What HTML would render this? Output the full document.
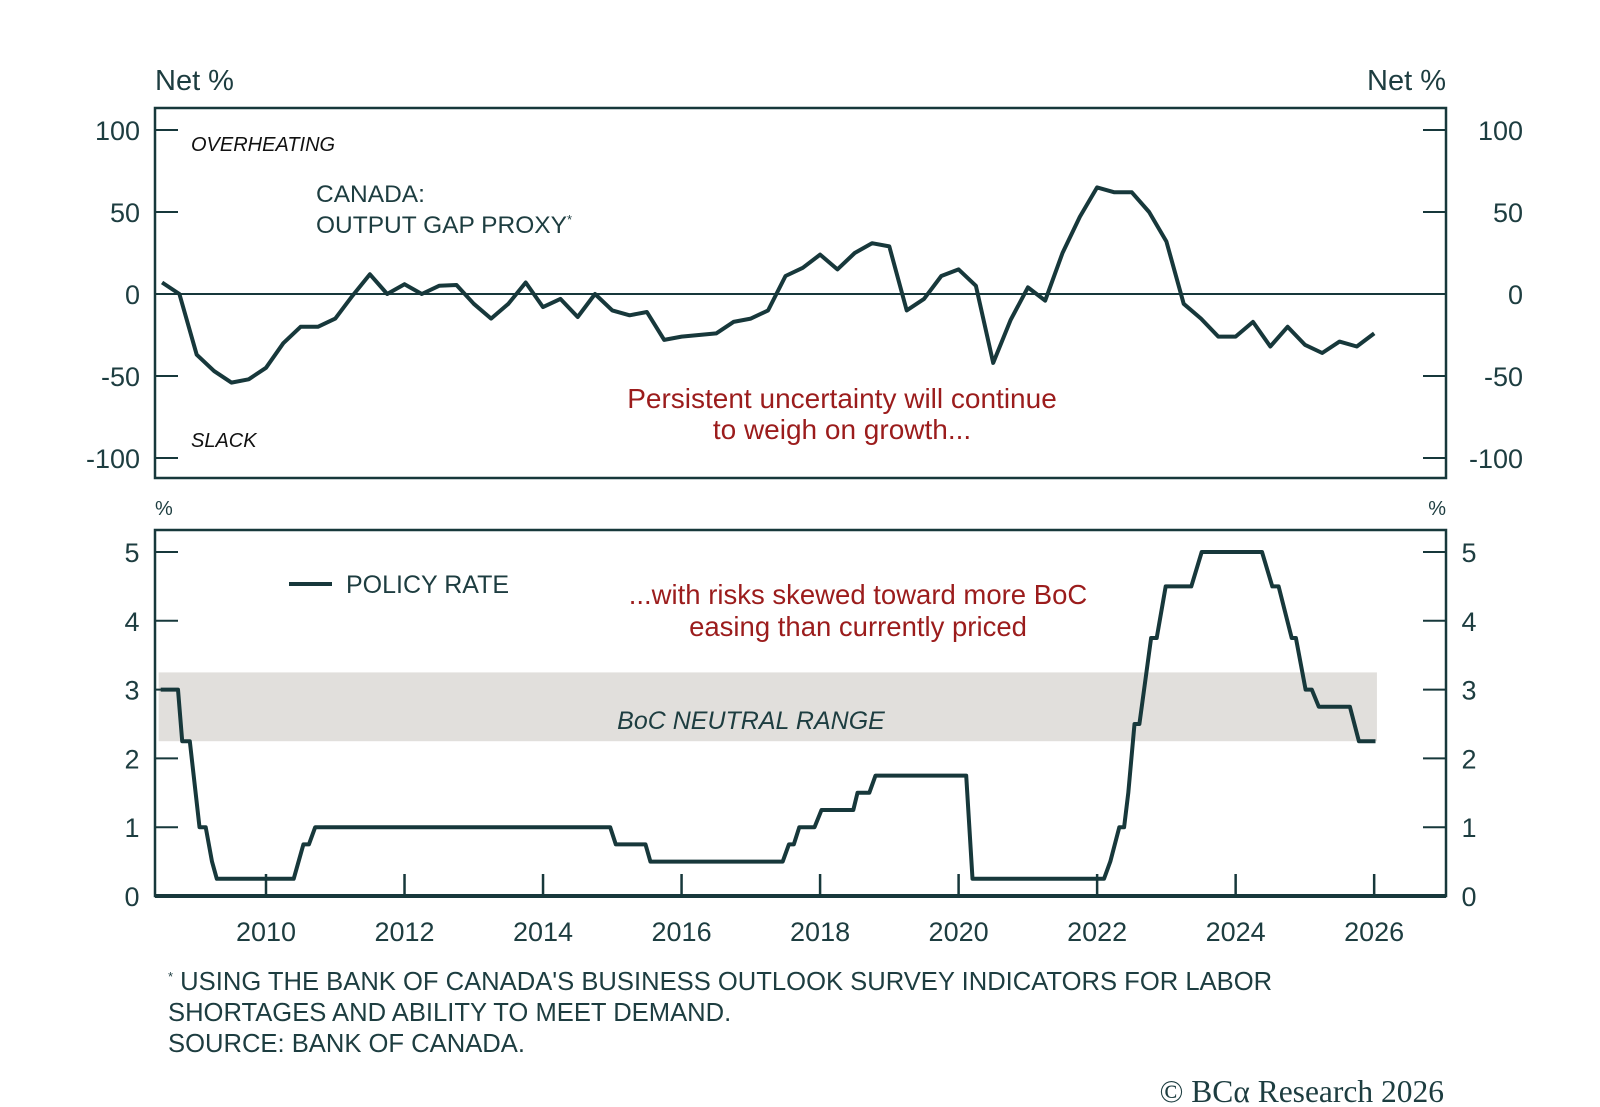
<!DOCTYPE html>
<html><head><meta charset="utf-8"><style>
html,body{margin:0;padding:0;background:#fff;}
svg{display:block;font-family:"Liberation Sans",sans-serif;}
.t{fill:#1d3d40;}
.r{fill:#9b1c1c;}
</style></head><body>
<svg id="chart" width="1600" height="1107" viewBox="0 0 1600 1107">
<g id="topPanel"></g>
<g id="botPanel"></g>
<g>
<text class="t" x="155" y="90" font-size="29">Net %</text>
<text class="t" x="1446" y="90" font-size="29" text-anchor="end">Net %</text>
<text class="t" x="191" y="151" font-size="20" font-style="italic" style="fill:#111">OVERHEATING</text>
<text class="t" x="191" y="447" font-size="20" font-style="italic" style="fill:#111">SLACK</text>
<text class="t" x="316" y="202" font-size="24.5">CANADA:</text>
<text class="t" x="316" y="233" font-size="24.5">OUTPUT GAP PROXY<tspan font-size="13" dy="-9">*</tspan></text>
<text class="r" x="842" y="408" font-size="28" text-anchor="middle">Persistent uncertainty will continue</text>
<text class="r" x="842" y="439" font-size="28" text-anchor="middle">to weigh on growth...</text>
<text class="t" x="155" y="515" font-size="20">%</text>
<text class="t" x="1446" y="515" font-size="20" text-anchor="end">%</text>
<line x1="289" y1="584" x2="332" y2="584" stroke="#17383b" stroke-width="4"/>
<text class="t" x="346" y="593" font-size="25">POLICY RATE</text>
<text class="r" x="858" y="604" font-size="27.5" text-anchor="middle">...with risks skewed toward more BoC</text>
<text class="r" x="858" y="636" font-size="27.5" text-anchor="middle">easing than currently priced</text>
<text class="t" x="168" y="990" font-size="25.6"><tspan font-size="13" dy="-9">*</tspan><tspan dy="9"> USING THE BANK OF CANADA'S BUSINESS OUTLOOK SURVEY INDICATORS FOR LABOR</tspan></text>
<text class="t" x="168" y="1021" font-size="25.6">SHORTAGES AND ABILITY TO MEET DEMAND.</text>
<text class="t" x="168" y="1052" font-size="25.6">SOURCE: BANK OF CANADA.</text>
<text class="t" x="1444" y="1102" font-size="31.5" text-anchor="end" font-family="Liberation Serif, serif">© BCα Research 2026</text>
</g>
</svg>
<script>
const gapStart = 2008.5;
const gapValues = [7,0,-37,-47,-54,-52,-45,-30,-20,-20,-15,-1,12,0,6,0,5,5.5,-6,-15,-6,7,-8,-3,-14,0,-10,-13,-11,-28,-26,-25,-24,-17,-15,-10,11,16,24,15,25,31,29,-10,-3,11,15,5,-42,-16,4,-4,25,47,65,62,62,50,32,-6,-15,-26,-26,-17,-32,-20,-31,-36,-29,-32,-24];
const rateDates = [2008.48,2008.73,2008.79,2008.90,2009.04,2009.13,2009.22,2009.29,2010.40,2010.54,2010.62,2010.71,2014.97,2015.05,2015.48,2015.55,2017.46,2017.55,2017.62,2017.70,2017.92,2018.02,2018.48,2018.54,2018.71,2018.80,2020.11,2020.20,2022.10,2022.19,2022.32,2022.39,2022.45,2022.54,2022.61,2022.78,2022.86,2022.99,2023.36,2023.51,2024.38,2024.53,2024.62,2024.81,2024.87,2025.01,2025.10,2025.20,2025.65,2025.78,2026.02];
const rateValues = [3,3,2.25,2.25,1,1,0.5,0.25,0.25,0.75,0.75,1,1,0.75,0.75,0.5,0.5,0.75,0.75,1,1,1.25,1.25,1.5,1.5,1.75,1.75,0.25,0.25,0.5,1,1,1.5,2.5,2.5,3.75,3.75,4.5,4.5,5,5,4.5,4.5,3.75,3.75,3,3,2.75,2.75,2.25,2.25];
const neutralRange = [2.25,3.25];
const neutralYears = [2008.45,2026.04];
const topTicks = [100,50,0,-50,-100];
const botTicks = [5,4,3,2,1,0];
const yearTicks = [2010,2012,2014,2016,2018,2020,2022,2024,2026];

const NS='http://www.w3.org/2000/svg';
const L=155,R=1446,INK='#17383b';
const BOTY=896;
const xS=y=>266+(y-2010)*69.26;
const yT=v=>294-v*1.64;
const yB=v=>BOTY-v*68.8;
function mk(parent,tag,attrs){const e=document.createElementNS(NS,tag);for(const k in attrs)e.setAttribute(k,attrs[k]);parent.appendChild(e);return e;}
const topG=document.getElementById('topPanel'),botG=document.getElementById('botPanel');

let e=mk(topG,'rect',{x:L,y:108,width:R-L,height:370,fill:'none',stroke:INK,'stroke-width':2.5});


e=mk(topG,'line',{x1:L,x2:R,y1:yT(0),y2:yT(0),stroke:INK,'stroke-width':2});


topTicks.forEach(v=>{
  const y=yT(v);
  let a=mk(topG,'line',{x1:L,x2:L+23,y1:y,y2:y,stroke:INK,'stroke-width':2});
  
  
  a=mk(topG,'line',{x1:R-23,x2:R,y1:y,y2:y,stroke:INK,'stroke-width':2});
  
  
  let t=mk(topG,'text',{x:140,y:y+10,'font-size':27,'text-anchor':'end',class:'t'});t.textContent=v;
  
  
  t=mk(topG,'text',{x:1523,y:y+10,'font-size':27,'text-anchor':'end',class:'t'});t.textContent=v;
  
  
});
e=mk(topG,'polyline',{points:gapValues.map((v,i)=>xS(gapStart+i*0.25).toFixed(1)+','+yT(v).toFixed(1)).join(' '),fill:'none',stroke:INK,'stroke-width':4,'stroke-linejoin':'round'});



e=mk(botG,'rect',{x:xS(neutralYears[0]),y:yB(neutralRange[1]),width:xS(neutralYears[1])-xS(neutralYears[0]),height:yB(neutralRange[0])-yB(neutralRange[1]),fill:'#e1dfdc'});


e=mk(botG,'text',{x:751,y:729,'font-size':25,'font-style':'italic','text-anchor':'middle',class:'t'});e.textContent='BoC NEUTRAL RANGE';


e=mk(botG,'rect',{x:L,y:530,width:R-L,height:BOTY-530,fill:'none',stroke:INK,'stroke-width':2.5});


e=mk(botG,'line',{x1:L,x2:R,y1:BOTY,y2:BOTY,stroke:INK,'stroke-width':4});


botTicks.forEach(v=>{
  const y=yB(v);
  let a=mk(botG,'line',{x1:L,x2:L+23,y1:y,y2:y,stroke:INK,'stroke-width':2});
  
  
  a=mk(botG,'line',{x1:R-23,x2:R,y1:y,y2:y,stroke:INK,'stroke-width':2});
  
  
  let t=mk(botG,'text',{x:132,y:y+10,'font-size':27,'text-anchor':'middle',class:'t'});t.textContent=v;
  
  
  t=mk(botG,'text',{x:1469,y:y+10,'font-size':27,'text-anchor':'middle',class:'t'});t.textContent=v;
  
  
});
yearTicks.forEach(yr=>{
  const x=xS(yr);
  let a=mk(botG,'line',{x1:x,x2:x,y1:BOTY-22,y2:BOTY,stroke:INK,'stroke-width':2.5});
  
  
  let t=mk(botG,'text',{x:x,y:941,'font-size':27,'text-anchor':'middle',class:'t'});t.textContent=yr;
  
  
});
e=mk(botG,'polyline',{points:rateDates.map((d,i)=>xS(d).toFixed(1)+','+yB(rateValues[i]).toFixed(1)).join(' '),fill:'none',stroke:INK,'stroke-width':4,'stroke-linejoin':'round'});


</script>
</body></html>
